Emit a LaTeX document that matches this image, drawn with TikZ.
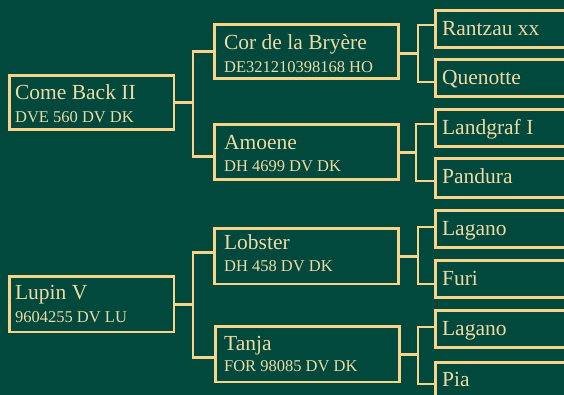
\documentclass[tikz,border=0pt]{standalone}
\usepackage{fontspec}
\setmainfont{Liberation Serif}
\usetikzlibrary{calc}
\definecolor{bg}{HTML}{00493C}
\definecolor{gold}{HTML}{F8D48A}
\definecolor{cream}{HTML}{F0DAA4}
\begin{document}
\begin{tikzpicture}[x=1pt,y=-1pt,
  box/.style={draw=gold, line width=2.8pt, inner sep=0pt, outer sep=0pt, anchor=north west, fill=none},
  conn/.style={draw=gold, line width=2.8pt},
  maintxt/.style={text=cream, inner sep=0pt, anchor=base west, font=\fontsize{21.5}{24}\selectfont},
  subtxt/.style={text=cream, inner sep=0pt, anchor=base west, font=\fontsize{16.5}{19}\selectfont}]
\useasboundingbox (0,0) rectangle (564,395);
\fill[bg] (0,0) rectangle (564,395);
\begin{scope}
\clip (0,0) rectangle (564,395);
% generation 1
\node[box, minimum width=164.5pt, minimum height=54.5pt] (A) at (9.4,75.4) {};
\node[box, minimum width=164.5pt, minimum height=55.5pt] (B) at (9.4,276.4) {};
% generation 2
\node[box, minimum width=184.3pt, minimum height=54.5pt] (C) at (214.4,24.4) {};
\node[box, minimum width=184.3pt, minimum height=55.5pt] (D) at (214.4,124.4) {};
\node[box, minimum width=184.3pt, minimum height=55.5pt] (E) at (214.4,228.4) {};
\node[box, minimum width=184.3pt, minimum height=55.5pt] (F) at (215.4,326.4) {};
% generation 3
\node[box, minimum width=170pt, minimum height=37.3pt] (R1) at (435.4,10.4) {};
\node[box, minimum width=170pt, minimum height=37.3pt] (R2) at (435.4,59.4) {};
\node[box, minimum width=170pt, minimum height=37.3pt] (R3) at (435.4,109.4) {};
\node[box, minimum width=170pt, minimum height=39.3pt] (R4) at (435.4,158.4) {};
\node[box, minimum width=170pt, minimum height=37.3pt] (R5) at (435.4,210.4) {};
\node[box, minimum width=170pt, minimum height=37.3pt] (R6) at (435.4,260.4) {};
\node[box, minimum width=170pt, minimum height=37.3pt] (R7) at (435.4,310.4) {};
\node[box, minimum width=170pt, minimum height=39.3pt] (R8) at (435.4,362.4) {};
% junctions
\coordinate (jA) at (193,0);
\coordinate (jB) at (193,0);
\coordinate (jC) at (418,0);
\coordinate (jD) at (416,0);
\coordinate (jE) at (418,0);
\coordinate (jF) at (418,0);
% connectors
\draw[conn] (A.east) -- (A.east -| jA);
\draw[conn] ([yshift=0.5pt]C.west) -| (A.east -| jA) |- ([yshift=-4pt]D.west);
\draw[conn] ([yshift=-1.5pt]C.east) -- ([yshift=-1.5pt]C.east -| jC);
\draw[conn] ([yshift=4pt]R1.west) -| ([yshift=-1.5pt]C.east -| jC) |- ([yshift=-4pt]R2.west);
\draw[conn] (D.east) -- (D.east -| jD);
\draw[conn] ([yshift=4pt]R3.west) -| (D.east -| jD) |- ([yshift=-3pt]R4.west);
\draw[conn] ([yshift=0pt]B.east) -- (B.east -| jB);
\draw[conn] ([yshift=4pt]E.west) -| (B.east -| jB) |- ([yshift=-3pt]F.west);
\draw[conn] (E.east) -- (E.east -| jE);
\draw[conn] ([yshift=2pt]R5.west) -| (E.east -| jE) |- ([yshift=-5pt]R6.west);
\draw[conn] (F.east) -- (F.east -| jF);
\draw[conn] ([yshift=2pt]R7.west) -| (F.east -| jF) |- ([yshift=-2pt]R8.west);
% texts
\node[maintxt] (tA) at ($(A.north west)+(5.5,23.75)$) {Come Back II};
\node[subtxt] (sA) at ($(A.north west)+(5.5,46.75)$) {DVE 560 DV DK};
\node[maintxt] (tB) at ($(B.north west)+(5.5,22.75)$) {Lupin V};
\node[subtxt] (sB) at ($(B.north west)+(5.5,45.75)$) {9604255 DV LU};
\node[maintxt] (tC) at ($(C.north west)+(9.5,24.75)$) {Cor de la Bryère};
\node[subtxt] (sC) at ($(C.north west)+(9.5,47.75)$) {DE321210398168 HO};
\node[maintxt] (tD) at ($(D.north west)+(9.5,24.75)$) {Amoene};
\node[subtxt] (sD) at ($(D.north west)+(9.5,46.75)$) {DH 4699 DV DK};
\node[maintxt] (tE) at ($(E.north west)+(9.5,20.75)$) {Lobster};
\node[subtxt] (sE) at ($(E.north west)+(9.5,42.75)$) {DH 458 DV DK};
\node[maintxt] (tF) at ($(F.north west)+(8.5,23.75)$) {Tanja};
\node[subtxt] (sF) at ($(F.north west)+(8.5,44.75)$) {FOR 98085 DV DK};
\node[maintxt] (t1) at ($(R1.north west)+(6.5,25.5)$) {Rantzau xx};
\node[maintxt] (t2) at ($(R2.north west)+(6.5,25.5)$) {Quenotte};
\node[maintxt] (t3) at ($(R3.north west)+(6.5,25.5)$) {Landgraf I};
\node[maintxt] (t4) at ($(R4.north west)+(6.5,25.5)$) {Pandura};
\node[maintxt] (t5) at ($(R5.north west)+(6.5,25.5)$) {Lagano};
\node[maintxt] (t6) at ($(R6.north west)+(6.5,25.5)$) {Furi};
\node[maintxt] (t7) at ($(R7.north west)+(6.5,25.5)$) {Lagano};
\node[maintxt] (t8) at ($(R8.north west)+(6.5,24.5)$) {Pia};
\end{scope}
\end{tikzpicture}
\end{document}
